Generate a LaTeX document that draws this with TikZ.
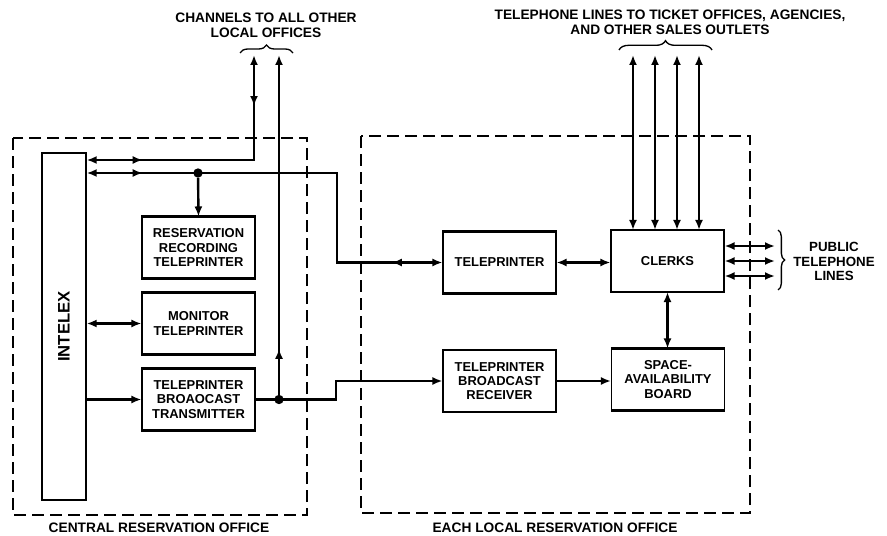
\documentclass[tikz,border=0pt]{standalone}
\usepackage{fontspec}
\setmainfont{Liberation Sans}
\usetikzlibrary{arrows.meta,decorations.markings,decorations.pathreplacing}
\begin{document}
\begin{tikzpicture}[x=0.75pt,y=-0.75pt,
  >={Latex[length=7.5pt,width=6pt]},
  box/.style={draw, line width=0.8pt, minimum width=84.75pt, minimum height=45.75pt,
    inner sep=0pt, align=center, font=\bfseries\fontsize{9.7}{10.7}\selectfont},
  conn/.style={line width=1.8pt},
  office/.style={line width=1.5pt, dash pattern=on 9pt off 4.5pt},
  lbl/.style={inner sep=0pt, align=center, font=\bfseries\fontsize{10.3}{11.25}\selectfont},
  dot/.style={circle, fill, inner sep=0pt, minimum size=7pt},
  midarrow/.style={postaction={decorate,decoration={markings,mark=at position #1 with {\arrow{>}}}}},
  midrev/.style={postaction={decorate,decoration={markings,mark=at position #1 with {\arrowreversed{>}}}}},
  bracket/.style={decorate, decoration={brace, amplitude=#1}, line width=1pt}
]
\useasboundingbox (0,0) rectangle (887,535);

% office frames
\draw[office] (13,138) rectangle (307,515);
\draw[office] (361,136) rectangle (750,513);

% INTELEX
\node[draw, line width=1pt, minimum width=33pt, minimum height=260.25pt, inner sep=0pt] (intelex) at (64,326.5) {};
\node[rotate=90, inner sep=0pt, font=\bfseries\fontsize{12.5}{14}\selectfont] (intelexlabel) at (intelex.center) {INTELEX};

% boxes
\node[box] (rrt) at (198.5,247.5) {RESERVATION\\RECORDING\\TELEPRINTER};
\node[box] (mon) at (198.5,323.5) {MONITOR\\TELEPRINTER};
\node[box] (tbt) at (198.5,399.5) {TELEPRINTER\\BROAOCAST\\TRANSMITTER};
\node[box] (tp) at (499.5,262.5) {TELEPRINTER};
\node[box] (clerks) at (667.5,261) {CLERKS};
\node[box] (tbr) at (499.5,381) {TELEPRINTER\\BROADCAST\\RECEIVER};
\node[box] (sab) at (668,379.5) {SPACE-\\AVAILABILITY\\BOARD};
\foreach \n in {rrt,mon,tbt,tp,clerks,tbr,sab}{
  \draw[line width=1.6pt] (\n.north west) -- (\n.north east);
  \draw[line width=1.6pt] (\n.south west) -- (\n.south east);
}

% helper coordinates
\coordinate (chA) at (254,55);
\coordinate (chB) at (279,55);
\coordinate (yA) at (0,160);
\coordinate (yB) at (0,173);
\coordinate (bendB1) at (337,173);
\coordinate (bendB2) at (337,262.5);
\coordinate (bendC1) at (336,399.5);
\coordinate (bendC2) at (336,381);
\node[dot] (j1) at (198,173) {};
\node[dot] (j2) at (279,399.5) {};

% connectors, central office
\draw[conn,<->,midarrow=42pt,midrev=166pt] (intelex.east |- yA) -- (254,160) -- (chA);
\draw[conn,<->,midarrow=42pt,midrev=296pt] (intelex.east |- yB) -- (bendB1) -- (bendB2) -- (tp.west);
\draw[conn,->] (j1) -- (rrt.north);
\draw[line width=2.2pt,->,midarrow=38pt] (j2.center) -- (chB);
\draw[conn,<->] (intelex.east |- mon.west) -- (mon.west);
\draw[conn,->] (intelex.east |- tbt.west) -- (tbt.west);
\draw[conn,->] (tbt.east) -- (j2.center) -- (bendC1) -- (bendC2) -- (tbr.west);

% connectors, local office
\draw[conn,<->] (tp.east) -- (clerks.west |- tp.east);
\draw[conn,->] (tbr.east) -- (sab.west |- tbr.east);
\draw[conn,<->] (clerks.south) -- (clerks.south |- sab.north);
\foreach \x [count=\i] in {633,655,677,699}{
  \coordinate (t\i) at (\x,55);
  \draw[conn,<->] (t\i) -- (t\i |- clerks.north);
}
\foreach \y [count=\i] in {246,261,276}{
  \coordinate (p\i) at (775,\y);
  \draw[conn,<->] (clerks.east |- p\i) -- (p\i);
}

% braces
\draw[bracket=6pt] (240,53) -- (293,53);
\draw[bracket=7pt] (619,50) -- (712,50);
\draw[bracket=5pt] (778,230) -- (778,290);

% labels
\node[lbl] (chlabel) at (266,25.5) {CHANNELS TO ALL OTHER\\LOCAL OFFICES};
\node[lbl] (tellabel) at (670,22.5) {TELEPHONE LINES TO TICKET OFFICES, AGENCIES,\\AND OTHER SALES OUTLETS};
\node[lbl, font=\bfseries\fontsize{10}{11}\selectfont] (publabel) at (834,261.5) {PUBLIC\\TELEPHONE\\LINES};
\node[lbl] (cro) at (159,527.5) {CENTRAL RESERVATION OFFICE};
\node[lbl] (elro) at (555,527.5) {EACH LOCAL RESERVATION OFFICE};
\end{tikzpicture}
\end{document}
